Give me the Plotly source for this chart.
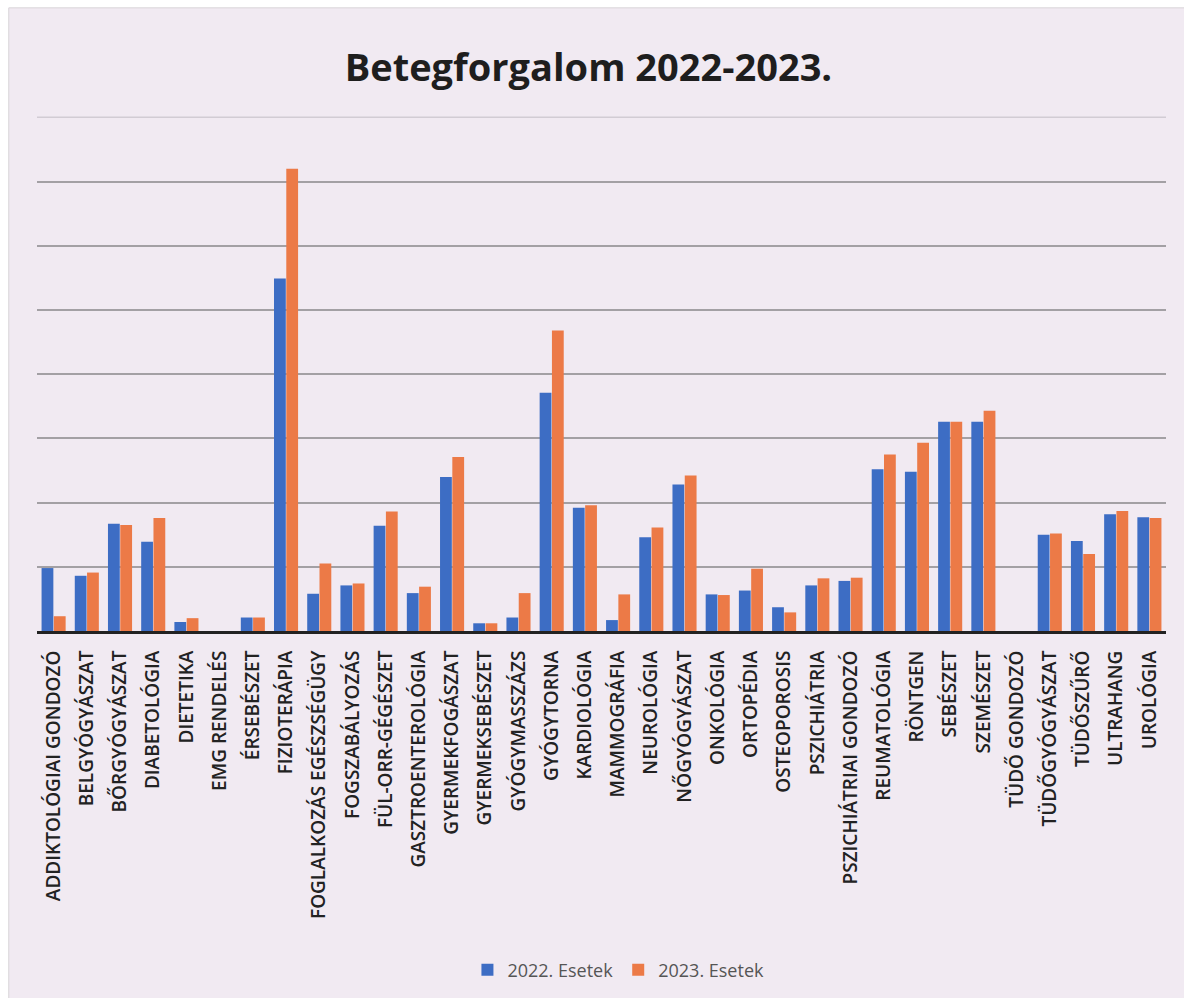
import plotly.graph_objects as go

# Szakrendelések
categories = [
    "ADDIKTOLÓGIAI GONDOZÓ", "BELGYÓGYÁSZAT", "BŐRGYÓGYÁSZAT", "DIABETOLÓGIA",
    "DIETETIKA", "EMG RENDELÉS", "ÉRSEBÉSZET", "FIZIOTERÁPIA",
    "FOGLALKOZÁS EGÉSZSÉGÜGY", "FOGSZABÁLYOZÁS", "FÜL-ORR-GÉGÉSZET",
    "GASZTROENTEROLÓGIA", "GYERMEKFOGÁSZAT", "GYERMEKSEBÉSZET", "GYÓGYMASSZÁZS",
    "GYÓGYTORNA", "KARDIOLÓGIA", "MAMMOGRÁFIA", "NEUROLÓGIA", "NŐGYÓGYÁSZAT",
    "ONKOLÓGIA", "ORTOPÉDIA", "OSTEOPOROSIS", "PSZICHIÁTRIA",
    "PSZICHIÁTRIAI GONDOZÓ", "REUMATOLÓGIA", "RÖNTGEN", "SEBÉSZET", "SZEMÉSZET",
    "TÜDŐ GONDOZÓ", "TÜDŐGYÓGYÁSZAT", "TÜDŐSZŰRŐ", "ULTRAHANG", "UROLÓGIA",
]

# Esetszámok
cases_2022 = [
    980, 860, 1670, 1390, 140, 0, 210, 5490, 580, 710, 1640,
    590, 2400, 120, 210, 3710, 1920, 170, 1460, 2280,
    570, 630, 370, 710, 780, 2520, 2480, 3260, 3260,
    0, 1500, 1400, 1820, 1770,
]
cases_2023 = [
    230, 910, 1650, 1760, 200, 0, 210, 7200, 1050, 740, 1860,
    690, 2710, 120, 590, 4680, 1960, 570, 1610, 2420,
    560, 970, 290, 820, 830, 2750, 2930, 3260, 3430,
    0, 1520, 1200, 1870, 1760,
]

series_names = ["2022. Esetek", "2023. Esetek"]
colors = ["#3d6dc4", "#ec7a47"]
grid_values = [1000, 2000, 3000, 4000, 5000, 6000, 7000]
axis_max = 8000

fig = go.Figure()
for name, vals, col in zip(series_names, [cases_2022, cases_2023], colors):
    fig.add_trace(go.Bar(x=categories, y=vals, name=name, marker_color=col,
                         marker_line_width=0))

# scanned-page background panel
fig.add_shape(type="rect", xref="paper", yref="paper",
              x0=-0.025, x1=1.02, y0=-0.72, y1=1.21,
              fillcolor="#f1eaf2", line=dict(color="#d8d4d8", width=1),
              layer="below")
# faint top gridline at the axis maximum
fig.add_shape(type="line", xref="paper", yref="y", x0=0, x1=1,
              y0=axis_max, y1=axis_max,
              line=dict(color="#d2ccd4", width=1.5), layer="below")

fig.update_layout(
    width=1184, height=998,
    margin=dict(l=37, r=18, t=116, b=366),
    paper_bgcolor="white",
    plot_bgcolor="rgba(0,0,0,0)",
    barmode="group",
    bargap=0.26,
    bargroupgap=0.04,
    title=dict(text="Betegforgalom 2022-2023.", x=0.497, xanchor="center",
               y=0.932, yanchor="middle",
               font=dict(family="Open Sans", size=38, color="#1e1e1e", weight=700)),
    legend=dict(orientation="h", x=0.515, xanchor="center", y=-0.655,
                yanchor="middle", font=dict(family="Open Sans", size=18, color="#555555"),
                bgcolor="rgba(0,0,0,0)", itemwidth=30),
    showlegend=True,
)
fig.update_xaxes(
    tickangle=-90, tickfont=dict(family="Open Sans", size=19, color="#222222", weight=600),
    showline=True, linecolor="#222222", linewidth=3,
    ticks="outside", ticklen=9, tickcolor="rgba(0,0,0,0)",
    showgrid=False,
)
fig.update_yaxes(
    range=[0, axis_max + 20], tickvals=grid_values,
    showticklabels=False,
    showgrid=True, gridcolor="#a3a0a4", gridwidth=1.5,
    zeroline=False, showline=False,
)

fig.write_html("out.html")
